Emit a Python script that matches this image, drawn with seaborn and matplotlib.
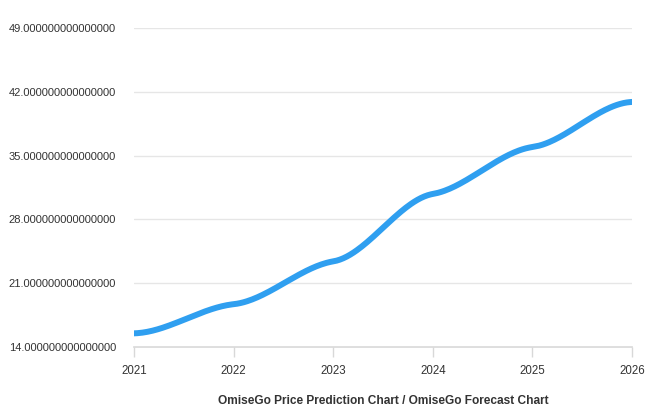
import matplotlib
matplotlib.use("Agg")
import matplotlib.pyplot as plt
import numpy as np
import seaborn as sns

years = [2021, 2022, 2023, 2024, 2025, 2026]
prices = [15.5, 18.7, 23.4, 30.8, 35.95, 40.9]
y_ticks = [14, 21, 28, 35, 42, 49]
title = "OmiseGo Price Prediction Chart / OmiseGo Forecast Chart"


def smooth_curve(x, y, k=0.3, n=60):
    # cubic Hermite with soft tangents, only for drawing the line smoothly
    x = np.asarray(x, float)
    y = np.asarray(y, float)
    h = np.diff(x)
    d = np.diff(y) / h
    m = np.zeros_like(y)
    m[1:-1] = k * (d[:-1] + d[1:]) / 2
    m[0] = k * d[0] * 0.3
    m[-1] = k * d[-1] * 0.3
    xs, ys = [], []
    for i in range(len(h)):
        t = np.linspace(0, 1, n)
        h00 = 2 * t**3 - 3 * t**2 + 1
        h10 = t**3 - 2 * t**2 + t
        h01 = -2 * t**3 + 3 * t**2
        h11 = t**3 - t**2
        xs.append(x[i] + t * h[i])
        ys.append(h00 * y[i] + h10 * h[i] * m[i] + h01 * y[i + 1] + h11 * h[i] * m[i + 1])
    return np.concatenate(xs), np.concatenate(ys)


sns.set_theme(style="white")
plt.rcParams["font.family"] = ["Liberation Sans", "DejaVu Sans"]

fig = plt.figure(figsize=(6.57, 4.08), dpi=100)
ax = fig.add_axes([0.204, 0.1495, 0.758, 0.7815])

cx, cy = smooth_curve(years, prices)
sns.lineplot(x=cx, y=cy, ax=ax, color="#2f9ff0", linewidth=4.3, sort=False,
             solid_capstyle="round")

ax.set_xlim(2021, 2026)
ax.set_ylim(14, 49)
ax.set_xticks(years)
ax.set_xticklabels([str(y) for y in years])
ax.set_yticks(y_ticks)
ax.set_yticklabels(["{:.15f}".format(v) for v in y_ticks])

ax.grid(axis="y", color="#e6e6e6", linewidth=1)
ax.grid(axis="x", visible=False)
for side in ["top", "right", "left"]:
    ax.spines[side].set_visible(False)
ax.spines["bottom"].set_color("#d8d8d8")
ax.spines["bottom"].set_linewidth(1.2)
ax.spines["bottom"].set_zorder(0)

ax.tick_params(axis="x", bottom=True, length=7, width=1, color="#d8d8d8",
               labelsize=8.3, labelcolor="#333333", pad=6)
ax.tick_params(axis="y", left=False, labelsize=8, labelcolor="#333333", pad=7)

ax.set_xlabel(title, fontsize=8.6, fontweight="bold", color="#333333", labelpad=13)
ax.set_ylabel("")

fig.savefig("out.png", dpi=100)
